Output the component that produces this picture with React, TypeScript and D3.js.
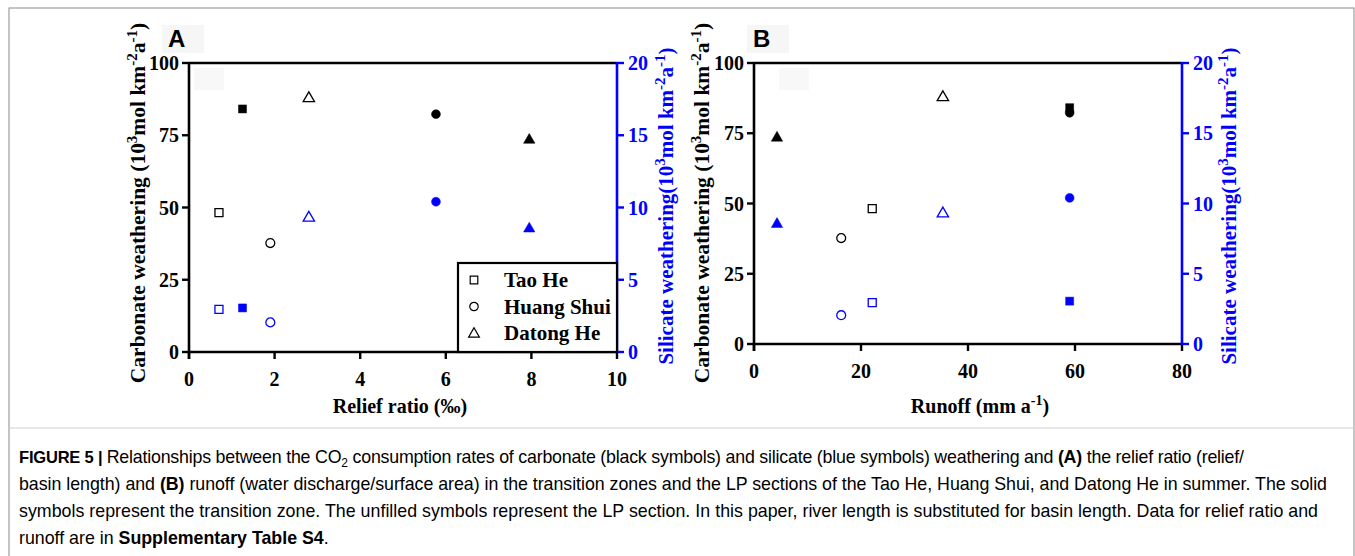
import * as d3 from 'd3';
import * as React from 'react';

// one entry per river section: LP section (open) and transition zone (filled)
const sites = ['Tao He', 'Tao He', 'Huang Shui', 'Huang Shui', 'Datong He', 'Datong He'];
const filled = [false, true, false, true, false, true];
const reliefRatio = [0.7, 1.25, 1.9, 5.77, 2.8, 7.95];
const runoff = [22.1, 59, 16.3, 59, 35.3, 4.3];
const carbonate = [48.2, 84.1, 37.7, 82.3, 88.1, 73.7];
const silicate = [2.95, 3.05, 2.05, 10.4, 9.35, 8.6];

const legendNames = ['Tao He', 'Huang Shui', 'Datong He'];
const carbTicks = [0, 25, 50, 75, 100];
const silTicks = [0, 5, 10, 15, 20];
const reliefTicks = [0, 2, 4, 6, 8, 10];
const runoffTicks = [0, 20, 40, 60, 80];

const SERIF = '"Liberation Serif", "Times New Roman", serif';
const SANS = '"Liberation Sans", Arial, sans-serif';
const BLUE = '#0000ff';

const symbolFor = (name: string) =>
  name === 'Tao He' ? d3.symbolSquare : name === 'Huang Shui' ? d3.symbolCircle : d3.symbolTriangle;
const sizeFor = (name: string) => (name === 'Tao He' ? 64 : name === 'Huang Shui' ? 62 : 56);

interface Part { t: string; sup?: boolean }

const unitParts = (head: string): Part[] => [
  { t: head + '10' }, { t: '3', sup: true }, { t: 'mol km' }, { t: '-2', sup: true },
  { t: 'a' }, { t: '-1', sup: true }, { t: ')' },
];

function RichText(props: { parts: Part[]; size: number; supSize: number }) {
  const { parts, size, supSize } = props;
  const shift = size * 0.38;
  return (
    <>
      {parts.map((p, i) => {
        const prevSup = i > 0 && parts[i - 1].sup;
        let dy = 0;
        if (p.sup && !prevSup) dy = -shift;
        if (!p.sup && prevSup) dy = shift;
        return (
          <tspan key={i} dy={dy} fontSize={p.sup ? supSize : size}>{p.t}</tspan>
        );
      })}
    </>
  );
}

interface PanelProps {
  letter: string;
  letterX: number;
  x0: number; x1: number; y0: number; y1: number;
  xDomain: [number, number];
  xTicks: number[];
  xValues: number[];
  xLabel: Part[];
  xLabelX: number;
  leftLabelX: number;
  rightLabelX: number;
  legend?: boolean;
}

function Panel(props: PanelProps) {
  const { letter, letterX, x0, x1, y0, y1, xDomain, xTicks, xValues, xLabel, xLabelX, leftLabelX, rightLabelX, legend } = props;
  const x = d3.scaleLinear().domain(xDomain).range([x0, x1]);
  const yc = d3.scaleLinear().domain([0, 100]).range([y1, y0]);
  const ys = d3.scaleLinear().domain([0, 20]).range([y1, y0]);
  const sym = d3.symbol();

  const marker = (i: number, yv: number, color: string, key: string) => {
    const name = sites[i];
    const path = sym.type(symbolFor(name)).size(sizeFor(name))() as string;
    const dy = name === 'Datong He' ? 1 : 0;
    return (
      <path
        key={key}
        d={path}
        transform={`translate(${x(xValues[i])},${yv + dy})`}
        fill={filled[i] ? color : 'none'}
        stroke={color}
        strokeWidth={filled[i] ? 0.5 : 1.3}
      />
    );
  };

  return (
    <g>
      <rect x={letterX - 6} y={25} width={42} height={28} fill="#f6f6f6" />
      <rect x={letterX + 26} y={68} width={30} height={22} fill="#f8f8f8" />
      <text x={letterX} y={47} fontFamily={SANS} fontWeight="bold" fontSize={24}>{letter}</text>

      {/* left axis: carbonate */}
      <line x1={x0} x2={x0} y1={y0 - 1} y2={y1 + 7} stroke="#000" strokeWidth={2.6} />
      {carbTicks.map(t => (
        <g key={'c' + t}>
          <line x1={x0 - 7} x2={x0} y1={yc(t)} y2={yc(t)} stroke="#000" strokeWidth={2.4} />
          <text x={x0 - 10} y={yc(t) + 7} textAnchor="end" fontFamily={SERIF} fontWeight="bold" fontSize={20}>{t}</text>
        </g>
      ))}
      <text
        transform={`translate(${leftLabelX},203) rotate(-90)`}
        textAnchor="middle" fontFamily={SERIF} fontWeight="bold" fontSize={21.5}
      >
        <RichText parts={unitParts('Carbonate weathering (')} size={21.5} supSize={15} />
      </text>

      {/* top frame line */}
      <line x1={x0} x2={x1} y1={y0} y2={y0} stroke="#000" strokeWidth={2.6} />

      {/* bottom axis */}
      <line x1={x0 - 1} x2={x1} y1={y1} y2={y1} stroke="#000" strokeWidth={2.6} />
      {xTicks.map(t => (
        <g key={'x' + t}>
          <line x1={x(t)} x2={x(t)} y1={y1} y2={y1 + 7} stroke="#000" strokeWidth={2.4} />
          <text x={x(t)} y={y1 + 34} textAnchor="middle" fontFamily={SERIF} fontWeight="bold" fontSize={20}>{t}</text>
        </g>
      ))}
      <text x={xLabelX} y={413} textAnchor="middle" fontFamily={SERIF} fontWeight="bold" fontSize={20}>
        <RichText parts={xLabel} size={20} supSize={14} />
      </text>

      {/* right axis: silicate */}
      <line x1={x1} x2={x1} y1={y0 - 1} y2={y1 + 1} stroke={BLUE} strokeWidth={2.6} />
      {silTicks.map(t => (
        <g key={'s' + t}>
          <line x1={x1} x2={x1 + 7} y1={ys(t)} y2={ys(t)} stroke={BLUE} strokeWidth={2.4} />
          <text x={x1 + 11} y={ys(t) + 7} fontFamily={SERIF} fontWeight="bold" fontSize={20} fill={BLUE}>{t}</text>
        </g>
      ))}
      <text
        transform={`translate(${rightLabelX},206) rotate(-90)`}
        textAnchor="middle" fontFamily={SERIF} fontWeight="bold" fontSize={21} fill={BLUE}
      >
        <RichText parts={unitParts('Silicate weathering(')} size={21} supSize={15} />
      </text>

      {sites.map((_, i) => marker(i, yc(carbonate[i]), '#000', 'cb' + i))}
      {sites.map((_, i) => marker(i, ys(silicate[i]), BLUE, 'sb' + i))}

      {legend && (
        <g>
          <rect x={x1 - 159} y={y1 - 89} width={159} height={89} fill="#fff" stroke="#000" strokeWidth={2.2} />
          {legendNames.map((n, k) => {
            const cy = y1 - 72 + k * 26.5;
            const p = sym.type(symbolFor(n)).size(sizeFor(n) * 0.9)() as string;
            return (
              <g key={n}>
                <path d={p} transform={`translate(${x1 - 143},${cy + (n === 'Datong He' ? 1 : 0)})`} fill="none" stroke="#000" strokeWidth={1.2} />
                <text x={x1 - 113} y={cy + 7} fontFamily={SERIF} fontWeight="bold" fontSize={21}>{n}</text>
              </g>
            );
          })}
        </g>
      )}
    </g>
  );
}

const captionStyle: React.CSSProperties = { fontFamily: SANS, fontSize: 17.8 };

export default function App() {
  return (
    <svg width={1355} height={556} style={{ position: 'absolute', left: 0, top: 0, background: '#fff' }}>
      <rect x={9} y={8} width={1345} height={560} fill="#fff" stroke="#8a8a8a" strokeWidth={1} />
      <line x1={9} x2={1354} y1={428} y2={428} stroke="#d0d0d0" strokeWidth={1} />

      <Panel
        letter="A" letterX={168} x0={189} x1={617} y0={63} y1={352}
        xDomain={[0, 10]} xTicks={reliefTicks} xValues={reliefRatio}
        xLabel={[{ t: 'Relief ratio (‰)' }]} xLabelX={400}
        leftLabelX={145} rightLabelX={673} legend
      />
      <Panel
        letter="B" letterX={753} x0={754} x1={1182} y0={63} y1={344}
        xDomain={[0, 80]} xTicks={runoffTicks} xValues={runoff}
        xLabel={[{ t: 'Runoff (mm a' }, { t: '-1', sup: true }, { t: ')' }]} xLabelX={980}
        leftLabelX={709} rightLabelX={1236}
      />

      <g style={captionStyle}>
        <text x={19} y={463} textLength={1225} lengthAdjust="spacing">
          <tspan fontWeight="bold" fontSize={16.5}>FIGURE 5 | </tspan>
          <tspan>Relationships between the CO</tspan>
          <tspan dy={4} fontSize={12}>2</tspan>
          <tspan dy={-4}> consumption rates of carbonate (black symbols) and silicate (blue symbols) weathering and </tspan>
          <tspan fontWeight="bold">(A)</tspan>
          <tspan> the relief ratio (relief/</tspan>
        </text>
        <text x={19} y={490} textLength={1308} lengthAdjust="spacing">
          <tspan>basin length) and </tspan>
          <tspan fontWeight="bold">(B)</tspan>
          <tspan> runoff (water discharge/surface area) in the transition zones and the LP sections of the Tao He, Huang Shui, and Datong He in summer. The solid</tspan>
        </text>
        <text x={19} y={517} textLength={1299} lengthAdjust="spacing">
          symbols represent the transition zone. The unfilled symbols represent the LP section. In this paper, river length is substituted for basin length. Data for relief ratio and
        </text>
        <text x={19} y={544}>
          <tspan>runoff are in </tspan>
          <tspan fontWeight="bold">Supplementary Table S4</tspan>
          <tspan>.</tspan>
        </text>
      </g>
    </svg>
  );
}
